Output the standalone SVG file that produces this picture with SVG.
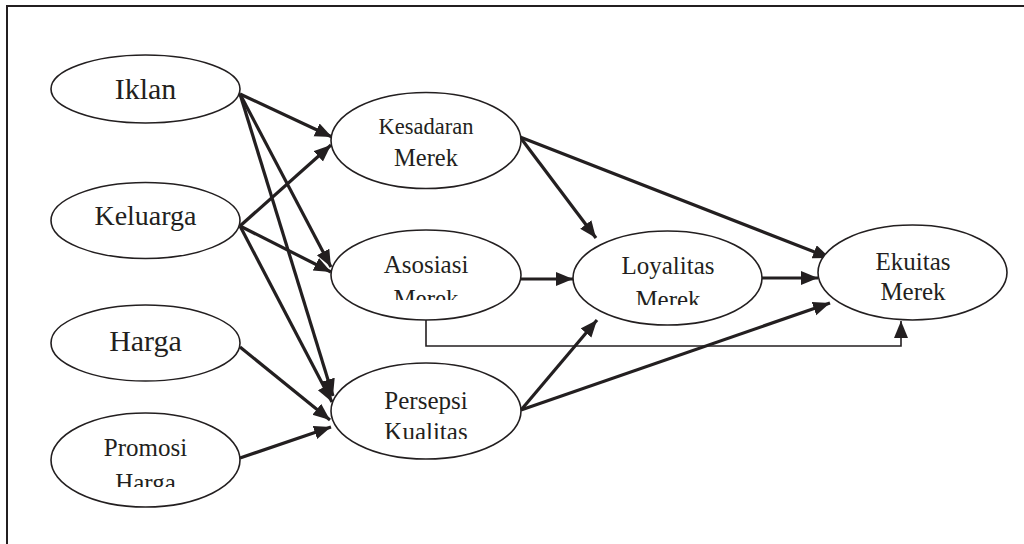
<svg xmlns="http://www.w3.org/2000/svg" width="1024" height="544" viewBox="0 0 1024 544">
<style>
  .node ellipse { fill: #fff; stroke: #231f20; stroke-width: 1.6; }
  .node text { font-family: "Liberation Serif", "Times New Roman", serif; fill: #231f20; text-anchor: middle; }
  .thick { stroke: #231f20; stroke-width: 3.2; fill: none; marker-end: url(#ah); }
  .thin { stroke: #231f20; stroke-width: 1.6; fill: none; marker-end: url(#ah); }
</style>
<defs>
  <marker id="ah" markerUnits="userSpaceOnUse" markerWidth="18" markerHeight="15" refX="17" refY="7" orient="auto">
    <path d="M0,0 L17,7 L0,14 z" fill="#231f20"/>
  </marker>
  <clipPath id="clipPromosi"><rect x="50" y="400" width="200" height="87"/></clipPath>
  <clipPath id="clipAsosiasi"><rect x="330" y="220" width="200" height="80"/></clipPath>
  <clipPath id="clipLoyalitas"><rect x="570" y="220" width="200" height="85"/></clipPath>
  <clipPath id="clipPersepsi"><rect x="330" y="360" width="200" height="79"/></clipPath>
</defs>
<rect x="0" y="0" width="1024" height="544" fill="#fff"/>
<path d="M7,544 V6 H1024" fill="none" stroke="#231f20" stroke-width="2"/>

<g id="connectors">
  <line class="thick" x1="240" y1="94" x2="332" y2="137"/>
  <line class="thick" x1="240" y1="94" x2="331" y2="267"/>
  <line class="thick" x1="240" y1="94" x2="333" y2="396"/>
  <line class="thick" x1="240" y1="226" x2="331" y2="145"/>
  <line class="thick" x1="240" y1="226" x2="331" y2="272"/>
  <line class="thick" x1="240" y1="226" x2="332" y2="402"/>
  <line class="thick" x1="240" y1="347" x2="330" y2="420"/>
  <line class="thick" x1="240" y1="458" x2="331" y2="427"/>
  <line class="thick" x1="520" y1="137" x2="596" y2="238"/>
  <line class="thick" x1="520" y1="137" x2="830" y2="258"/>
  <line class="thick" x1="521" y1="279" x2="573" y2="279"/>
  <line class="thick" x1="762" y1="278" x2="818" y2="278"/>
  <line class="thick" x1="521" y1="410" x2="597" y2="320"/>
  <line class="thick" x1="521" y1="410" x2="830" y2="303"/>
  <path class="thin" d="M426,320 V346 H901 V321"/>
</g>

<g id="iklan" class="node">
  <ellipse cx="145.5" cy="89" rx="94.5" ry="34"/>
  <text x="145.5" y="99" font-size="30">Iklan</text>
</g>
<g id="keluarga" class="node">
  <ellipse cx="145.5" cy="220.5" rx="94.5" ry="38"/>
  <text x="145.5" y="225" font-size="28">Keluarga</text>
</g>
<g id="harga" class="node">
  <ellipse cx="145.5" cy="343" rx="94.5" ry="38"/>
  <text x="145.5" y="351" font-size="30">Harga</text>
</g>
<g id="promosi-harga" class="node">
  <ellipse cx="145.5" cy="460" rx="94.5" ry="47"/>
  <g clip-path="url(#clipPromosi)">
    <text x="145.5" y="456" font-size="25">Promosi</text>
    <text x="145.5" y="491" font-size="25">Harga</text>
  </g>
</g>
<g id="kesadaran-merek" class="node">
  <ellipse cx="426" cy="140.5" rx="95" ry="48"/>
  <text x="426" y="133.5" font-size="22.5">Kesadaran</text>
  <text x="426" y="165.5" font-size="24.5">Merek</text>
</g>
<g id="asosiasi-merek" class="node">
  <ellipse cx="426" cy="275" rx="95" ry="45"/>
  <g clip-path="url(#clipAsosiasi)">
    <text x="426" y="272.5" font-size="25">Asosiasi</text>
    <text x="426" y="306.5" font-size="25">Merek</text>
  </g>
</g>
<g id="loyalitas-merek" class="node">
  <ellipse cx="667.5" cy="278" rx="94.5" ry="47"/>
  <g clip-path="url(#clipLoyalitas)">
    <text x="668" y="273.5" font-size="25">Loyalitas</text>
    <text x="668" y="308" font-size="25">Merek</text>
  </g>
</g>
<g id="persepsi-kualitas" class="node">
  <ellipse cx="426" cy="411" rx="95" ry="48"/>
  <g clip-path="url(#clipPersepsi)">
    <text x="426" y="408.5" font-size="25">Persepsi</text>
    <text x="426" y="439.5" font-size="25">Kualitas</text>
  </g>
</g>
<g id="ekuitas-merek" class="node">
  <ellipse cx="912.5" cy="272.5" rx="94.5" ry="47.5"/>
  <text x="913" y="269.5" font-size="25">Ekuitas</text>
  <text x="913" y="300" font-size="25">Merek</text>
</g>
</svg>
